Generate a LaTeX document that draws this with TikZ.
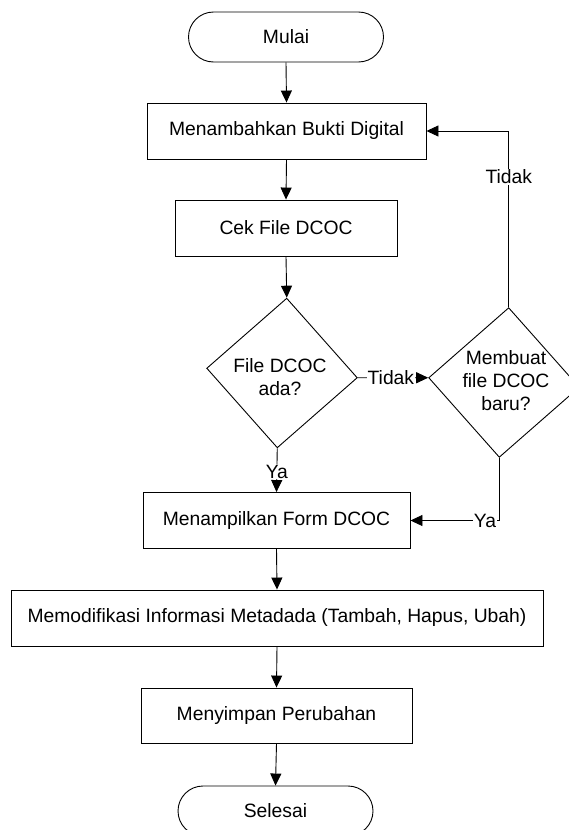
\documentclass[tikz,border=0pt]{standalone}
\usepackage{fontspec}
\setmainfont{Liberation Sans}
\usetikzlibrary{shapes.geometric,shapes.misc,arrows.meta}

\begin{document}
\begin{tikzpicture}[x=1pt,y=-1pt,
  font=\fontsize{19.3}{23}\selectfont,
  proc/.style={draw=black, line width=0.9pt, rectangle, minimum height=56pt,
    inner sep=0pt, align=center},
  term/.style={draw=black, line width=0.9pt, rounded rectangle,
    minimum width=195pt, minimum height=50pt, inner sep=0pt},
  decision/.style={draw=black, line width=0.9pt, diamond, minimum width=151pt,
    minimum height=150pt, inner sep=0pt, rotate=-3.6},
  arr/.style={draw=black, line width=0.9pt, -{Triangle[length=12pt,width=11pt]}},
  lbl/.style={fill=white, inner sep=1pt}
]
\useasboundingbox (0,0) rectangle (569,830);

% process steps
\node[term] (start) at (286,37) {Mulai};
\node[proc, minimum width=279pt] (b1) at (286.5,131) {Menambahkan Bukti Digital};
\node[proc, minimum width=222pt] (b2) at (286,228) {Cek File DCOC};

% decisions (shape drawn tilted, text kept level)
\node[decision] (d1) at (282,373) {};
\node[align=center] (t1) at (280,377) {File DCOC\\ada?};
\node[decision] (d2) at (504,382.5) {};
\node[align=center] (t2) at (506,381) {Membuat\\file DCOC\\baru?};

\node[proc, minimum width=267pt] (b3) at (276.5,520.5) {Menampilkan Form DCOC};
\node[proc, minimum width=532pt] (b4) at (277,618) {Memodifikasi Informasi Metadada (Tambah, Hapus, Ubah)};
\node[proc, minimum width=271pt, minimum height=55pt] (b5) at (276.5,715.5) {Menyimpan Perubahan};
\node[term] (end) at (275.5,811) {Selesai};

% connectors
\draw[arr] (start.south) -- (b1.north);
\draw[arr] (b1.south) -- (b2.north);
\draw[arr] (b2.south) -- (d1.north);
\draw[arr] (d1.south) -- node[lbl, pos=0.53] {Ya} (b3.north);
\draw[arr] (d1.east) -- node[lbl, pos=0.47] {Tidak} (d2.west);
\draw[arr] (d2.north) |- node[lbl, pos=0.37] {Tidak} (b1.east);
\draw[arr] (d2.south) |- node[lbl, pos=0.58] {Ya} (b3.east);
\draw[arr] (b3.south) -- (b4.north);
\draw[arr] (b4.south) -- (b5.north);
\draw[arr] (b5.south) -- (end.north);
\end{tikzpicture}
\end{document}
